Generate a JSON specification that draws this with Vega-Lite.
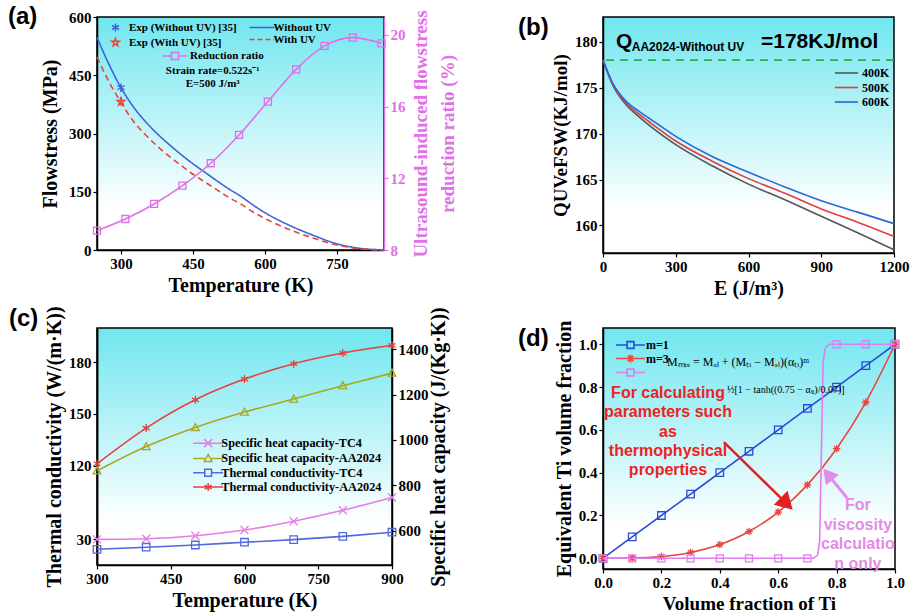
{
  "$schema": "https://vega.github.io/schema/vega-lite/v6.json",
  "padding": {"left": 7, "top": 4, "right": 0, "bottom": 0},
  "bounds": "flush",
  "columns": 2,
  "spacing": {"row": 75, "column": 211},
  "concat": [
    {
      "width": 287,
      "height": 233,
      "title": {"text": "(a)", "dx": -89, "dy": 23},
      "view": {"fill": {"gradient": "linear", "x1": 0, "y1": 0, "x2": 0, "y2": 1, "stops": [{"offset": 0, "color": "#70e6ef"}, {"offset": 0.82, "color": "#ffffff"}, {"offset": 1, "color": "#ffffff"}]}},
      "layer": [
        {
          "layer": [
            {
              "data": {"values": [
                {"T": 250, "s": 547, "series": "Without UV"}, {"T": 275, "s": 478, "series": "Without UV"}, {"T": 300, "s": 418, "series": "Without UV"}, {"T": 325, "s": 370, "series": "Without UV"}, {"T": 350, "s": 332, "series": "Without UV"}, {"T": 375, "s": 300, "series": "Without UV"}, {"T": 400, "s": 272, "series": "Without UV"}, {"T": 425, "s": 246, "series": "Without UV"}, {"T": 450, "s": 222, "series": "Without UV"}, {"T": 475, "s": 200, "series": "Without UV"}, {"T": 500, "s": 178, "series": "Without UV"}, {"T": 525, "s": 157, "series": "Without UV"}, {"T": 550, "s": 138, "series": "Without UV"}, {"T": 575, "s": 116, "series": "Without UV"}, {"T": 600, "s": 96, "series": "Without UV"}, {"T": 650, "s": 64, "series": "Without UV"}, {"T": 700, "s": 38, "series": "Without UV"}, {"T": 750, "s": 16, "series": "Without UV"}, {"T": 800, "s": 4, "series": "Without UV"}, {"T": 848, "s": 0, "series": "Without UV"},
                {"T": 250, "s": 497, "series": "With UV"}, {"T": 275, "s": 433, "series": "With UV"}, {"T": 300, "s": 380, "series": "With UV"}, {"T": 325, "s": 333, "series": "With UV"}, {"T": 350, "s": 298, "series": "With UV"}, {"T": 375, "s": 268, "series": "With UV"}, {"T": 400, "s": 242, "series": "With UV"}, {"T": 425, "s": 218, "series": "With UV"}, {"T": 450, "s": 195, "series": "With UV"}, {"T": 475, "s": 175, "series": "With UV"}, {"T": 500, "s": 155, "series": "With UV"}, {"T": 525, "s": 135, "series": "With UV"}, {"T": 550, "s": 118, "series": "With UV"}, {"T": 575, "s": 98, "series": "With UV"}, {"T": 600, "s": 81, "series": "With UV"}, {"T": 650, "s": 53, "series": "With UV"}, {"T": 700, "s": 31, "series": "With UV"}, {"T": 750, "s": 13, "series": "With UV"}, {"T": 800, "s": 3, "series": "With UV"}, {"T": 848, "s": 0, "series": "With UV"}
              ]},
              "mark": {"type": "line", "strokeWidth": 1.6, "interpolate": "monotone"},
              "encoding": {
                "x": {"field": "T", "type": "quantitative", "scale": {"domain": [250, 848], "nice": false}, "axis": {"title": "Temperature (K)", "values": [300, 450, 600, 750]}},
                "y": {"field": "s", "type": "quantitative", "scale": {"domain": [0, 600], "nice": false}, "axis": {"title": "Flowstress (MPa)", "values": [0, 150, 300, 450, 600], "titlePadding": 8}},
                "color": {"field": "series", "type": "nominal", "scale": {"domain": ["Without UV", "With UV"], "range": ["#3d63dc", "#e8453c"]}, "legend": null},
                "strokeDash": {"field": "series", "type": "nominal", "scale": {"domain": ["Without UV", "With UV"], "range": [[1, 0], [6, 4]]}, "legend": null}
              }
            },
            {
              "data": {"values": [
                {"T": 300, "s": 418, "lo": 409, "hi": 427, "series": "Exp (Without UV)  [35]"},
                {"T": 300, "s": 382, "lo": 371, "hi": 394, "series": "Exp (With UV) [35]"}
              ]},
              "layer": [
                {
                  "mark": {"type": "rule", "strokeWidth": 1.2},
                  "encoding": {
                    "x": {"field": "T", "type": "quantitative"},
                    "y": {"field": "lo", "type": "quantitative"},
                    "y2": {"field": "hi"},
                    "color": {"field": "series", "type": "nominal", "scale": {"domain": ["Exp (Without UV)  [35]", "Exp (With UV) [35]"], "range": ["#3d63dc", "#e8453c"]}, "legend": null}
                  }
                },
                {
                  "mark": {"type": "point", "filled": false, "size": 72, "strokeWidth": 1.3, "opacity": 1},
                  "encoding": {
                    "x": {"field": "T", "type": "quantitative"},
                    "y": {"field": "s", "type": "quantitative"},
                    "color": {"field": "series", "type": "nominal", "scale": {"domain": ["Exp (Without UV)  [35]", "Exp (With UV) [35]"], "range": ["#3d63dc", "#e8453c"]}, "legend": null},
                    "shape": {"field": "series", "type": "nominal", "scale": {"domain": ["Exp (Without UV)  [35]", "Exp (With UV) [35]"], "range": ["M0,-1L0,1M-0.87,-0.5L0.87,0.5M-0.87,0.5L0.87,-0.5", "M0,-1L0.235,-0.324L0.951,-0.309L0.38,0.124L0.588,0.809L0,0.4L-0.588,0.809L-0.38,0.124L-0.951,-0.309L-0.235,-0.324Z"]}, "legend": null}
                  }
                }
              ]
            },
            {
              "data": {"values": []},
              "mark": {"type": "point", "filled": false, "size": 64, "strokeWidth": 1.5, "opacity": 1},
              "encoding": {
                "color": {"field": "series", "type": "nominal", "scale": {"domain": ["Exp (Without UV)  [35]", "Exp (With UV) [35]"], "range": ["#3d63dc", "#e8453c"]},
                  "legend": {"orient": "none", "legendX": 13, "legendY": 5, "rowPadding": 0, "symbolSize": 64, "symbolStrokeWidth": 1.5, "labelOffset": 8, "labelFontSize": 11, "labelLimit": 300, "title": null}},
                "shape": {"field": "series", "type": "nominal", "scale": {"domain": ["Exp (Without UV)  [35]", "Exp (With UV) [35]"], "range": ["M0,-1L0,1M-0.87,-0.5L0.87,0.5M-0.87,0.5L0.87,-0.5", "M0,-1L0.235,-0.324L0.951,-0.309L0.38,0.124L0.588,0.809L0,0.4L-0.588,0.809L-0.38,0.124L-0.951,-0.309L-0.235,-0.324Z"]}}
              }
            },
            {
              "data": {"values": []},
              "mark": {"type": "point", "filled": false, "size": 64, "strokeWidth": 1.5, "opacity": 1},
              "encoding": {
                "color": {"field": "series", "type": "nominal", "scale": {"domain": ["Without UV", "With UV"], "range": ["#3d63dc", "#e8453c"]},
                  "legend": {"orient": "none", "legendX": 159.5, "legendY": 5, "rowPadding": 0, "symbolSize": 64, "symbolStrokeWidth": 1.5, "labelOffset": 6, "labelFontSize": 11, "labelLimit": 300, "title": null}},
                "shape": {"field": "series", "type": "nominal", "scale": {"domain": ["Without UV", "With UV"], "range": ["M-3.1,0L3.1,0", "M-3.1,0L3.1,0"]}},
                "strokeDash": {"field": "series", "type": "nominal", "scale": {"domain": ["Without UV", "With UV"], "range": [[1, 0], [5, 3]]}}
              }
            },
            {
              "data": {"values": [{}]},
              "mark": {"type": "text", "font": "Liberation Serif", "fontWeight": "bold", "fontSize": 11, "align": "center", "baseline": "middle", "color": "#000"},
              "encoding": {"x": {"datum": 491, "type": "quantitative"}, "y": {"datum": 461, "type": "quantitative"}, "text": {"value": "Strain rate=0.522s⁻¹"}}
            },
            {
              "data": {"values": [{}]},
              "mark": {"type": "text", "font": "Liberation Serif", "fontWeight": "bold", "fontSize": 11, "align": "center", "baseline": "middle", "color": "#000"},
              "encoding": {"x": {"datum": 491, "type": "quantitative"}, "y": {"datum": 427, "type": "quantitative"}, "text": {"value": "E=500 J/m³"}}
            }
          ],
          "resolve": {"scale": {"color": "independent", "shape": "independent", "strokeDash": "independent"}}
        },
        {
          "data": {"values": [
            {"T": 250, "r": 9.08, "series": "Reduction ratio"}, {"T": 309, "r": 9.73, "series": "Reduction ratio"}, {"T": 369, "r": 10.57, "series": "Reduction ratio"}, {"T": 428, "r": 11.59, "series": "Reduction ratio"}, {"T": 487, "r": 12.84, "series": "Reduction ratio"}, {"T": 546, "r": 14.42, "series": "Reduction ratio"}, {"T": 606, "r": 16.28, "series": "Reduction ratio"}, {"T": 665, "r": 18.08, "series": "Reduction ratio"}, {"T": 724, "r": 19.39, "series": "Reduction ratio"}, {"T": 783, "r": 19.85, "series": "Reduction ratio"}, {"T": 843, "r": 19.53, "series": "Reduction ratio"}
          ]},
          "layer": [
            {"mark": {"type": "line", "strokeWidth": 1.6, "interpolate": "monotone"}},
            {"mark": {"type": "point", "shape": "square", "filled": false, "size": 49, "strokeWidth": 1.3, "opacity": 1}}
          ],
          "encoding": {
            "x": {"field": "T", "type": "quantitative", "scale": {"domain": [250, 848], "nice": false}, "axis": {"title": "Temperature (K)", "values": [300, 450, 600, 750]}},
            "y": {"field": "r", "type": "quantitative", "scale": {"domain": [8, 21], "nice": false, "zero": false}, "axis": {"orient": "right", "title": ["Ultrasound-induced flowstress", "reduction ratio (%)"], "titleAngle": 270, "titleFontSize": 19, "titleLineHeight": 27, "titlePadding": -2, "titleColor": "#e070e8", "labelColor": "#e070e8", "domainColor": "#e070e8", "tickColor": "#e070e8", "values": [8, 12, 16, 20]}},
            "color": {"field": "series", "type": "nominal", "scale": {"domain": ["Reduction ratio"], "range": ["#e070e8"]}, "legend": {"orient": "none", "legendX": 72.5, "legendY": 33.5, "symbolSize": 64, "labelOffset": 9.5, "labelFontSize": 11, "title": null, "symbolType": "M-3.1,0L-0.9,0M0.9,0L3.1,0M-0.9,-0.9L0.9,-0.9L0.9,0.9L-0.9,0.9Z", "symbolStrokeWidth": 1.5, "symbolFillColor": "transparent"}}
          }
        }
      ],
      "resolve": {"scale": {"y": "independent", "color": "independent"}}
    },
    {
      "width": 291,
      "height": 236,
      "title": {"text": "(b)", "dx": -85, "dy": 27},
      "view": {"fill": {"gradient": "linear", "x1": 0, "y1": 0, "x2": 0, "y2": 1, "stops": [{"offset": 0, "color": "#70e6ef"}, {"offset": 0.82, "color": "#ffffff"}, {"offset": 1, "color": "#ffffff"}]}},
      "layer": [
        {
          "data": {"values": [
            {"E": 0, "Q": 178, "T": "400K"}, {"E": 40, "Q": 175.3, "T": "400K"}, {"E": 100, "Q": 173.0, "T": "400K"}, {"E": 150, "Q": 171.8, "T": "400K"}, {"E": 200, "Q": 170.7, "T": "400K"}, {"E": 300, "Q": 168.8, "T": "400K"}, {"E": 450, "Q": 166.5, "T": "400K"}, {"E": 600, "Q": 164.5, "T": "400K"}, {"E": 750, "Q": 162.8, "T": "400K"}, {"E": 900, "Q": 161.0, "T": "400K"}, {"E": 1050, "Q": 159.2, "T": "400K"}, {"E": 1200, "Q": 157.35, "T": "400K"},
            {"E": 0, "Q": 178, "T": "500K"}, {"E": 40, "Q": 175.4, "T": "500K"}, {"E": 100, "Q": 173.2, "T": "500K"}, {"E": 150, "Q": 172.1, "T": "500K"}, {"E": 200, "Q": 171.1, "T": "500K"}, {"E": 300, "Q": 169.2, "T": "500K"}, {"E": 450, "Q": 167.0, "T": "500K"}, {"E": 600, "Q": 165.1, "T": "500K"}, {"E": 750, "Q": 163.5, "T": "500K"}, {"E": 900, "Q": 161.8, "T": "500K"}, {"E": 1050, "Q": 160.35, "T": "500K"}, {"E": 1200, "Q": 158.8, "T": "500K"},
            {"E": 0, "Q": 178, "T": "600K"}, {"E": 40, "Q": 175.5, "T": "600K"}, {"E": 100, "Q": 173.4, "T": "600K"}, {"E": 150, "Q": 172.4, "T": "600K"}, {"E": 200, "Q": 171.5, "T": "600K"}, {"E": 300, "Q": 169.7, "T": "600K"}, {"E": 450, "Q": 167.5, "T": "600K"}, {"E": 600, "Q": 165.8, "T": "600K"}, {"E": 750, "Q": 164.2, "T": "600K"}, {"E": 900, "Q": 162.7, "T": "600K"}, {"E": 1050, "Q": 161.45, "T": "600K"}, {"E": 1200, "Q": 160.2, "T": "600K"}
          ]},
          "mark": {"type": "line", "strokeWidth": 1.6, "interpolate": "monotone"},
          "encoding": {
            "x": {"field": "E", "type": "quantitative", "scale": {"domain": [0, 1200], "nice": false}, "axis": {"title": "E (J/m³)", "values": [0, 300, 600, 900, 1200], "format": "d"}},
            "y": {"field": "Q", "type": "quantitative", "scale": {"domain": [157, 182.7], "nice": false, "zero": false}, "axis": {"title": "QUVeFSW(KJ/mol)", "titleFontSize": 19, "values": [160, 165, 170, 175, 180], "titlePadding": 4}},
            "color": {"field": "T", "type": "nominal", "scale": {"domain": ["400K", "500K", "600K"], "range": ["#555555", "#e83a3a", "#2a68d8"]}, "legend": {"orient": "none", "legendX": 237.5, "legendY": 50, "symbolType": "M-2.9,0L2.9,0", "symbolSize": 64, "symbolStrokeWidth": 1.6, "labelOffset": 9.5, "labelFontSize": 12, "rowPadding": 2.5, "title": null}}
          }
        },
        {
          "data": {"values": [{}]},
          "mark": {"type": "rule", "color": "#2fa84f", "strokeWidth": 1.8, "strokeDash": [8, 6]},
          "encoding": {"y": {"datum": 178, "type": "quantitative"}}
        },
        {
          "data": {"values": [{}]},
          "mark": {"type": "text", "font": "Liberation Sans", "fontWeight": "bold", "fontSize": 21, "align": "left", "baseline": "alphabetic", "color": "#000"},
          "encoding": {"x": {"datum": 53.6, "type": "quantitative"}, "y": {"datum": 179.35, "type": "quantitative"}, "text": {"value": "Q"}}
        },
        {
          "data": {"values": [{}]},
          "mark": {"type": "text", "font": "Liberation Sans", "fontWeight": "bold", "fontSize": 12, "align": "left", "baseline": "alphabetic", "color": "#000"},
          "encoding": {"x": {"datum": 118.4, "type": "quantitative"}, "y": {"datum": 179.0, "type": "quantitative"}, "text": {"value": "AA2024-Without UV"}}
        },
        {
          "data": {"values": [{}]},
          "mark": {"type": "text", "font": "Liberation Sans", "fontWeight": "bold", "fontSize": 21, "align": "left", "baseline": "alphabetic", "color": "#000"},
          "encoding": {"x": {"datum": 651.5, "type": "quantitative"}, "y": {"datum": 179.35, "type": "quantitative"}, "text": {"value": "=178KJ/mol"}}
        }
      ],
      "resolve": {"scale": {"color": "independent"}}
    },
    {
      "width": 295,
      "height": 237,
      "title": {"text": "(c)", "dx": -88, "dy": 29},
      "view": {"fill": {"gradient": "linear", "x1": 0, "y1": 0, "x2": 0, "y2": 1, "stops": [{"offset": 0, "color": "#70e6ef"}, {"offset": 0.82, "color": "#ffffff"}, {"offset": 1, "color": "#ffffff"}]}},
      "layer": [
        {
          "data": {"values": [
            {"T": 300, "k": 121}, {"T": 400, "k": 141.7}, {"T": 500, "k": 158.1}, {"T": 600, "k": 170.1}, {"T": 700, "k": 179.0}, {"T": 800, "k": 185.2}, {"T": 900, "k": 189.7}
          ]},
          "encoding": {
            "x": {"field": "T", "type": "quantitative", "scale": {"domain": [300, 900], "nice": false}, "axis": {"title": "Temperature (K)", "values": [300, 450, 600, 750, 900]}},
            "y": {"field": "k", "type": "quantitative", "scale": {"domain": [62.33, 199.74], "nice": false, "zero": false}, "axis": {"title": "Thermal conductivity (W/(m·K))", "values": [120, 150, 180], "titlePadding": 4}}
          },
          "layer": [
            {"mark": {"type": "line", "strokeWidth": 1.6, "interpolate": "monotone", "color": "#e84040"}},
            {"mark": {"type": "point", "filled": false, "size": 64, "strokeWidth": 1.3, "opacity": 1, "color": "#e84040", "shape": "M0,-1L0,1M-0.87,-0.5L0.87,0.5M-0.87,0.5L0.87,-0.5"}},
            {
              "data": {"values": [{}]},
              "mark": {"type": "rule", "color": "#000", "strokeWidth": 1.6},
              "encoding": {"x": {"datum": 292, "type": "quantitative"}, "y": {"datum": 99.0, "type": "quantitative"}, "x2": {"datum": 308}, "y2": {"datum": 102.5}}
            },
            {
              "data": {"values": [{}]},
              "mark": {"type": "rule", "color": "#000", "strokeWidth": 1.6},
              "encoding": {"x": {"datum": 292, "type": "quantitative"}, "y": {"datum": 95.0, "type": "quantitative"}, "x2": {"datum": 308}, "y2": {"datum": 98.5}}
            }
          ]
        },
        {
          "data": {"values": [
            {"T": 300, "cp": 563, "series": "Specific heat capacity-TC4"}, {"T": 400, "cp": 566, "series": "Specific heat capacity-TC4"}, {"T": 500, "cp": 579, "series": "Specific heat capacity-TC4"}, {"T": 600, "cp": 604, "series": "Specific heat capacity-TC4"}, {"T": 700, "cp": 643, "series": "Specific heat capacity-TC4"}, {"T": 800, "cp": 691, "series": "Specific heat capacity-TC4"}, {"T": 900, "cp": 747, "series": "Specific heat capacity-TC4"},
            {"T": 300, "cp": 864, "series": "Specific heat capacity-AA2024"}, {"T": 400, "cp": 971, "series": "Specific heat capacity-AA2024"}, {"T": 500, "cp": 1055, "series": "Specific heat capacity-AA2024"}, {"T": 600, "cp": 1123, "series": "Specific heat capacity-AA2024"}, {"T": 700, "cp": 1180, "series": "Specific heat capacity-AA2024"}, {"T": 800, "cp": 1239, "series": "Specific heat capacity-AA2024"}, {"T": 900, "cp": 1294, "series": "Specific heat capacity-AA2024"}
          ]},
          "encoding": {
            "x": {"field": "T", "type": "quantitative", "scale": {"domain": [300, 900], "nice": false}, "axis": {"title": "Temperature (K)", "values": [300, 450, 600, 750, 900]}},
            "y": {"field": "cp", "type": "quantitative", "scale": {"domain": [450.3, 1492.5], "nice": false, "zero": false}, "axis": {"orient": "right", "title": "Specific heat capacity (J/(Kg·K))", "titleAngle": 270, "values": [600, 800, 1000, 1200, 1400], "format": "d", "titlePadding": 20}},
            "color": {"field": "series", "type": "nominal", "scale": {"domain": ["Specific heat capacity-TC4", "Specific heat capacity-AA2024"], "range": ["#e47ee6", "#a8a820"]}, "legend": null}
          },
          "layer": [
            {"mark": {"type": "line", "strokeWidth": 1.6, "interpolate": "monotone"}},
            {"mark": {"type": "point", "filled": false, "size": 64, "strokeWidth": 1.3, "opacity": 1}, "encoding": {"shape": {"field": "series", "type": "nominal", "scale": {"domain": ["Specific heat capacity-TC4", "Specific heat capacity-AA2024"], "range": ["M-1,-1L1,1M-1,1L1,-1", "M0,-1L0.95,0.75L-0.95,0.75Z"]}, "legend": null}}}
          ]
        },
        {
          "data": {"values": [
            {"T": 300, "k": 24.2}, {"T": 400, "k": 25.4}, {"T": 500, "k": 26.7}, {"T": 600, "k": 28.3}, {"T": 700, "k": 29.8}, {"T": 800, "k": 31.7}, {"T": 900, "k": 34.1}
          ]},
          "encoding": {
            "x": {"field": "T", "type": "quantitative", "scale": {"domain": [300, 900], "nice": false}, "axis": {"title": "Temperature (K)", "values": [300, 450, 600, 750, 900]}},
            "y": {"field": "k", "type": "quantitative", "scale": {"domain": [15.1, 152.5], "nice": false, "zero": false}, "axis": {"orient": "left", "title": null, "values": [30]}}
          },
          "layer": [
            {"mark": {"type": "line", "strokeWidth": 1.6, "interpolate": "monotone", "color": "#5068e0"}},
            {"mark": {"type": "point", "filled": false, "size": 56, "strokeWidth": 1.3, "opacity": 1, "color": "#5068e0", "shape": "square"}}
          ]
        },
        {
          "data": {"values": []},
          "mark": {"type": "point", "filled": false, "size": 64, "strokeWidth": 1.5, "opacity": 1},
          "encoding": {
            "color": {"field": "series", "type": "nominal", "scale": {"domain": ["Specific heat capacity-TC4", "Specific heat capacity-AA2024", "Thermal conductivity-TC4", "Thermal conductivity-AA2024"], "range": ["#e47ee6", "#a8a820", "#5068e0", "#e84040"]},
              "legend": {"orient": "none", "legendX": 105, "legendY": 109, "symbolSize": 64, "symbolStrokeWidth": 1.5, "labelOffset": 7, "labelFontSize": 12.3, "labelLimit": 300, "rowPadding": 0.3, "title": null}},
            "shape": {"field": "series", "type": "nominal", "scale": {"domain": ["Specific heat capacity-TC4", "Specific heat capacity-AA2024", "Thermal conductivity-TC4", "Thermal conductivity-AA2024"], "range": ["M-3.75,0L3.75,0M-1,-1L1,1M-1,1L1,-1", "M-3.75,0L-0.8,0M0.8,0L3.75,0M0,-1L0.95,0.75L-0.95,0.75Z", "M-3.75,0L-0.85,0M0.85,0L3.75,0M-0.85,-0.85L0.85,-0.85L0.85,0.85L-0.85,0.85Z", "M-3.75,0L3.75,0M0,-1L0,1M-0.87,-0.5L0.87,0.5M-0.87,0.5L0.87,-0.5"]}}
          }
        }
      ],
      "resolve": {"scale": {"y": "independent", "color": "independent", "shape": "independent"}}
    },
    {
      "width": 292,
      "height": 241,
      "title": {"text": "(d)", "dx": -85, "dy": 35},
      "view": {"fill": {"gradient": "linear", "x1": 0, "y1": 0, "x2": 0, "y2": 1, "stops": [{"offset": 0, "color": "#70e6ef"}, {"offset": 0.82, "color": "#ffffff"}, {"offset": 1, "color": "#ffffff"}]}},
      "layer": [
        {
          "data": {"values": [
            {"x": 0, "y": 0, "series": "m=1"}, {"x": 0.1, "y": 0.1, "series": "m=1"}, {"x": 0.2, "y": 0.2, "series": "m=1"}, {"x": 0.3, "y": 0.3, "series": "m=1"}, {"x": 0.4, "y": 0.4, "series": "m=1"}, {"x": 0.5, "y": 0.5, "series": "m=1"}, {"x": 0.6, "y": 0.6, "series": "m=1"}, {"x": 0.7, "y": 0.7, "series": "m=1"}, {"x": 0.8, "y": 0.8, "series": "m=1"}, {"x": 0.9, "y": 0.9, "series": "m=1"}, {"x": 1.0, "y": 1.0, "series": "m=1"},
            {"x": 0, "y": 0, "series": "m=3"}, {"x": 0.1, "y": 0.001, "series": "m=3"}, {"x": 0.2, "y": 0.008, "series": "m=3"}, {"x": 0.3, "y": 0.027, "series": "m=3"}, {"x": 0.4, "y": 0.064, "series": "m=3"}, {"x": 0.5, "y": 0.125, "series": "m=3"}, {"x": 0.6, "y": 0.216, "series": "m=3"}, {"x": 0.7, "y": 0.343, "series": "m=3"}, {"x": 0.8, "y": 0.512, "series": "m=3"}, {"x": 0.9, "y": 0.729, "series": "m=3"}, {"x": 1.0, "y": 1.0, "series": "m=3"}
          ]},
          "encoding": {
            "x": {"field": "x", "type": "quantitative", "scale": {"domain": [0, 1], "nice": false}, "axis": {"title": "Volume fraction of Ti", "titleFontSize": 19, "values": [0, 0.2, 0.4, 0.6, 0.8, 1], "format": ".1f"}},
            "y": {"field": "y", "type": "quantitative", "scale": {"domain": [-0.05, 1.076], "nice": false, "zero": false}, "axis": {"title": "Equivalent Ti volume fraction", "values": [0, 0.2, 0.4, 0.6, 0.8, 1], "format": ".1f", "titlePadding": 4}},
            "color": {"field": "series", "type": "nominal", "scale": {"domain": ["m=1", "m=3"], "range": ["#2a4bd7", "#e8453c"]}, "legend": null}
          },
          "layer": [
            {"mark": {"type": "line", "strokeWidth": 1.6, "interpolate": "monotone"}},
            {"mark": {"type": "point", "filled": false, "size": 56, "strokeWidth": 1.3, "opacity": 1}, "encoding": {"shape": {"field": "series", "type": "nominal", "scale": {"domain": ["m=1", "m=3"], "range": ["square", "M-1,0L1,0M0,-1L0,1M-0.7,-0.7L0.7,0.7M-0.7,0.7L0.7,-0.7"]}, "legend": null}}}
          ]
        },
        {
          "data": {"values": [
            {"x": 0, "y": 0}, {"x": 0.72, "y": 0}, {"x": 0.735, "y": 0.015}, {"x": 0.742, "y": 0.08}, {"x": 0.748, "y": 0.5}, {"x": 0.754, "y": 0.92}, {"x": 0.762, "y": 0.985}, {"x": 0.775, "y": 1.0}, {"x": 1.0, "y": 1.0}
          ]},
          "mark": {"type": "line", "strokeWidth": 1.6, "color": "#e07ef0"},
          "encoding": {
            "x": {"field": "x", "type": "quantitative"},
            "y": {"field": "y", "type": "quantitative"}
          }
        },
        {
          "data": {"values": [
            {"x": 0, "y": 0}, {"x": 0.1, "y": 0}, {"x": 0.2, "y": 0}, {"x": 0.3, "y": 0}, {"x": 0.4, "y": 0}, {"x": 0.5, "y": 0}, {"x": 0.6, "y": 0}, {"x": 0.7, "y": 0}, {"x": 0.8, "y": 1}, {"x": 0.9, "y": 1}, {"x": 1.0, "y": 1}
          ]},
          "mark": {"type": "point", "shape": "square", "filled": false, "size": 49, "strokeWidth": 1.3, "opacity": 1, "color": "#e07ef0"},
          "encoding": {
            "x": {"field": "x", "type": "quantitative"},
            "y": {"field": "y", "type": "quantitative"}
          }
        },
        {
          "data": {"values": []},
          "mark": {"type": "point", "filled": false, "size": 64, "strokeWidth": 1.6, "opacity": 1},
          "encoding": {
            "color": {"field": "series", "type": "nominal", "scale": {"domain": ["m=1", "m=3", "tanh"], "range": ["#2a4bd7", "#e8453c", "#e07ef0"]},
              "legend": {"orient": "none", "legendX": 21.5, "legendY": 11, "symbolSize": 64, "symbolStrokeWidth": 1.6, "labelOffset": 9.5, "labelFontSize": 12, "rowPadding": -1.5, "title": null, "labelExpr": "datum.value === 'tanh' ? '' : datum.value"}},
            "shape": {"field": "series", "type": "nominal", "scale": {"domain": ["m=1", "m=3", "tanh"], "range": ["M-3.6,0L-0.85,0M0.85,0L3.6,0M-0.85,-0.85L0.85,-0.85L0.85,0.85L-0.85,0.85Z", "M-3.6,0L3.6,0M0,-1L0,1M-0.7,-0.7L0.7,0.7M-0.7,0.7L0.7,-0.7", "M-3.6,0L-0.85,0M0.85,0L3.6,0M-0.85,-0.85L0.85,-0.85L0.85,0.85L-0.85,0.85Z"]}}
          }
        },
        {
          "data": {"values": [{}]},
          "mark": {"type": "text", "font": "Liberation Serif", "fontSize": 12, "align": "left", "baseline": "alphabetic", "color": "#000"},
          "encoding": {"x": {"datum": 0.219, "type": "quantitative"}, "y": {"datum": 0.9, "type": "quantitative"}, "text": {"value": "Mₘᵢₓ = Mₐₗ + (Mₜᵢ − Mₐₗ)(αₜᵢ)ᵐ"}}
        },
        {
          "data": {"values": [{}]},
          "mark": {"type": "text", "font": "Liberation Serif", "fontSize": 10, "align": "left", "baseline": "middle", "color": "#000"},
          "encoding": {"x": {"datum": 0.4247, "type": "quantitative"}, "y": {"datum": 0.786, "type": "quantitative"}, "text": {"value": "½[1 − tanh((0.75 − αₜᵢ)/0.07)]"}}
        },
        {
          "data": {"values": [{}]},
          "mark": {"type": "text", "font": "Liberation Sans", "fontWeight": "bold", "fontSize": 16, "lineHeight": 19.3, "align": "center", "baseline": "top", "color": "#ee2222"},
          "encoding": {"x": {"datum": 0.2226, "type": "quantitative"}, "y": {"datum": 0.81, "type": "quantitative"}, "text": {"value": ["For calculating", "parameters such", "as", "thermophysical", "properties"]}}
        },
        {
          "data": {"values": [{}]},
          "mark": {"type": "text", "font": "Liberation Sans", "fontWeight": "bold", "fontSize": 16, "lineHeight": 19.5, "align": "center", "baseline": "top", "color": "#e38be8"},
          "encoding": {"x": {"datum": 0.873, "type": "quantitative"}, "y": {"datum": 0.286, "type": "quantitative"}, "text": {"value": ["For", "viscosity", "calculatio", "n only"]}}
        },
        {
          "data": {"values": [{}]},
          "mark": {"type": "rule", "color": "#e41f1f", "strokeWidth": 2.5},
          "encoding": {"x": {"datum": 0.414, "type": "quantitative"}, "y": {"datum": 0.543, "type": "quantitative"}, "x2": {"datum": 0.629}, "y2": {"datum": 0.255}}
        },
        {
          "data": {"values": [{}]},
          "mark": {"type": "point", "shape": "triangle-up", "filled": true, "color": "#e41f1f", "size": 380, "angle": 135, "opacity": 1},
          "encoding": {"x": {"datum": 0.629, "type": "quantitative"}, "y": {"datum": 0.255, "type": "quantitative"}}
        },
        {
          "data": {"values": [{}]},
          "mark": {"type": "rule", "color": "#e38be8", "strokeWidth": 3},
          "encoding": {"x": {"datum": 0.836, "type": "quantitative"}, "y": {"datum": 0.282, "type": "quantitative"}, "x2": {"datum": 0.770}, "y2": {"datum": 0.392}}
        },
        {
          "data": {"values": [{}]},
          "mark": {"type": "point", "shape": "triangle-up", "filled": true, "color": "#e38be8", "size": 280, "angle": 321, "opacity": 1},
          "encoding": {"x": {"datum": 0.770, "type": "quantitative"}, "y": {"datum": 0.392, "type": "quantitative"}}
        }
      ],
      "resolve": {"scale": {"color": "independent", "shape": "independent"}}
    }
  ],
  "config": {
    "font": "Liberation Serif",
    "view": {"stroke": "#000", "strokeWidth": 1.5},
    "axis": {"grid": false, "labelFont": "Liberation Serif", "labelFontWeight": "bold", "labelFontSize": 15, "labelColor": "#000", "titleFont": "Liberation Serif", "titleFontWeight": "bold", "titleFontSize": 20, "titleColor": "#000", "domainColor": "#000", "domainWidth": 1.5, "tickColor": "#000", "tickWidth": 1.2, "tickSize": 4, "labelPadding": 2, "labelFlush": false, "labelOverlap": false},
    "axisX": {"titlePadding": 4},
    "legend": {"labelFont": "Liberation Serif", "labelFontWeight": "bold", "labelColor": "#000", "padding": 0},
    "title": {"font": "Liberation Sans", "fontWeight": "bold", "fontSize": 24, "anchor": "start", "frame": "group", "color": "#000", "offset": 0}
  }
}
